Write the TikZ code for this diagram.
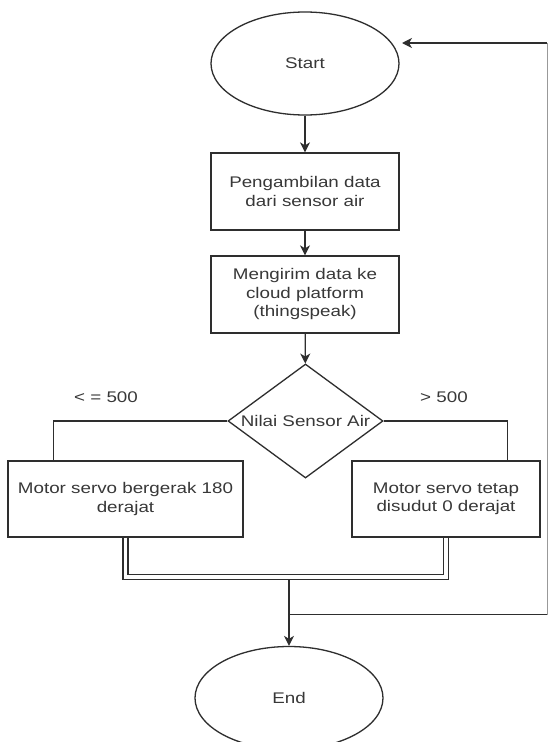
\documentclass[tikz,border=0pt]{standalone}
\usepackage{fontspec}
\setmainfont[FakeStretch=1.22]{Liberation Sans}
\usetikzlibrary{shapes.geometric,arrows.meta}
\begin{document}
\begin{tikzpicture}[x=1pt,y=-1pt,
  every node/.style={font=\fontsize{15.4pt}{18.5pt}\selectfont, text=black!78},
  ln/.style={draw=black!82, line width=1.3pt},
  arr/.style={ln, -{Stealth[length=10pt,width=10pt,inset=3pt]}},
  termbox/.style={ellipse, ln, minimum width=188pt, minimum height=103pt, inner sep=0pt},
  procbox/.style={rectangle, ln, minimum height=77pt, inner sep=0pt, align=center},
  decbox/.style={diamond, ln, minimum width=155pt, minimum height=114pt, inner sep=0pt, aspect=1.36},
  lbl/.style={inner sep=0pt}
]
\clip (0,0) rectangle (548,742);
\fill[white] (0,0) rectangle (548,742);

\node[termbox] (start) at (305,63.5) {Start};
\node[procbox, minimum width=188pt] (b1) at (305,191.5) {Pengambilan data\\dari sensor air};
\node[procbox, minimum width=188pt] (b2) at (305,294.5) {Mengirim data ke\\cloud platform\\(thingspeak)};
\node[decbox] (dec) at (305.5,421) {Nilai Sensor Air};
\node[procbox, minimum width=235pt, minimum height=76pt] (lb) at (125.5,499) {Motor servo bergerak 180\\derajat};
\node[procbox, minimum width=188pt, minimum height=76pt] (rb) at (446,499) {Motor servo tetap\\disudut 0 derajat};
\node[termbox] (end) at (289,698) {End};

\node[lbl] (l1) at (106,397) {< = 500};
\node[lbl] (l2) at (444,397) {> 500};

\coordinate (join) at (289,579);
\coordinate (tap) at (289,614.5);
\coordinate (re) at (547,614.5);
\coordinate (rt) at (547,43);
\coordinate (ret) at (402,43);

\draw[arr] (start) -- (b1);
\draw[arr] (b1) -- (b2);
\draw[arr] (b2) -- (dec);
\draw[ln] (dec.west) -| ([xshift=46pt]lb.north west);
\draw[ln] (dec.east) -| ([xshift=-33pt]rb.north east);
\draw[ln, double=white, double distance=3.7pt] (lb.south) -- ([yshift=-39.5pt]lb.south) -| (rb.south);
\draw[arr] (join) -- (end);
\draw[ln, draw=black!40, line width=1pt] (re) -- (rt);
\draw[ln] (tap) -- (re);
\draw[arr] (rt) -- (ret);
\end{tikzpicture}
\end{document}
